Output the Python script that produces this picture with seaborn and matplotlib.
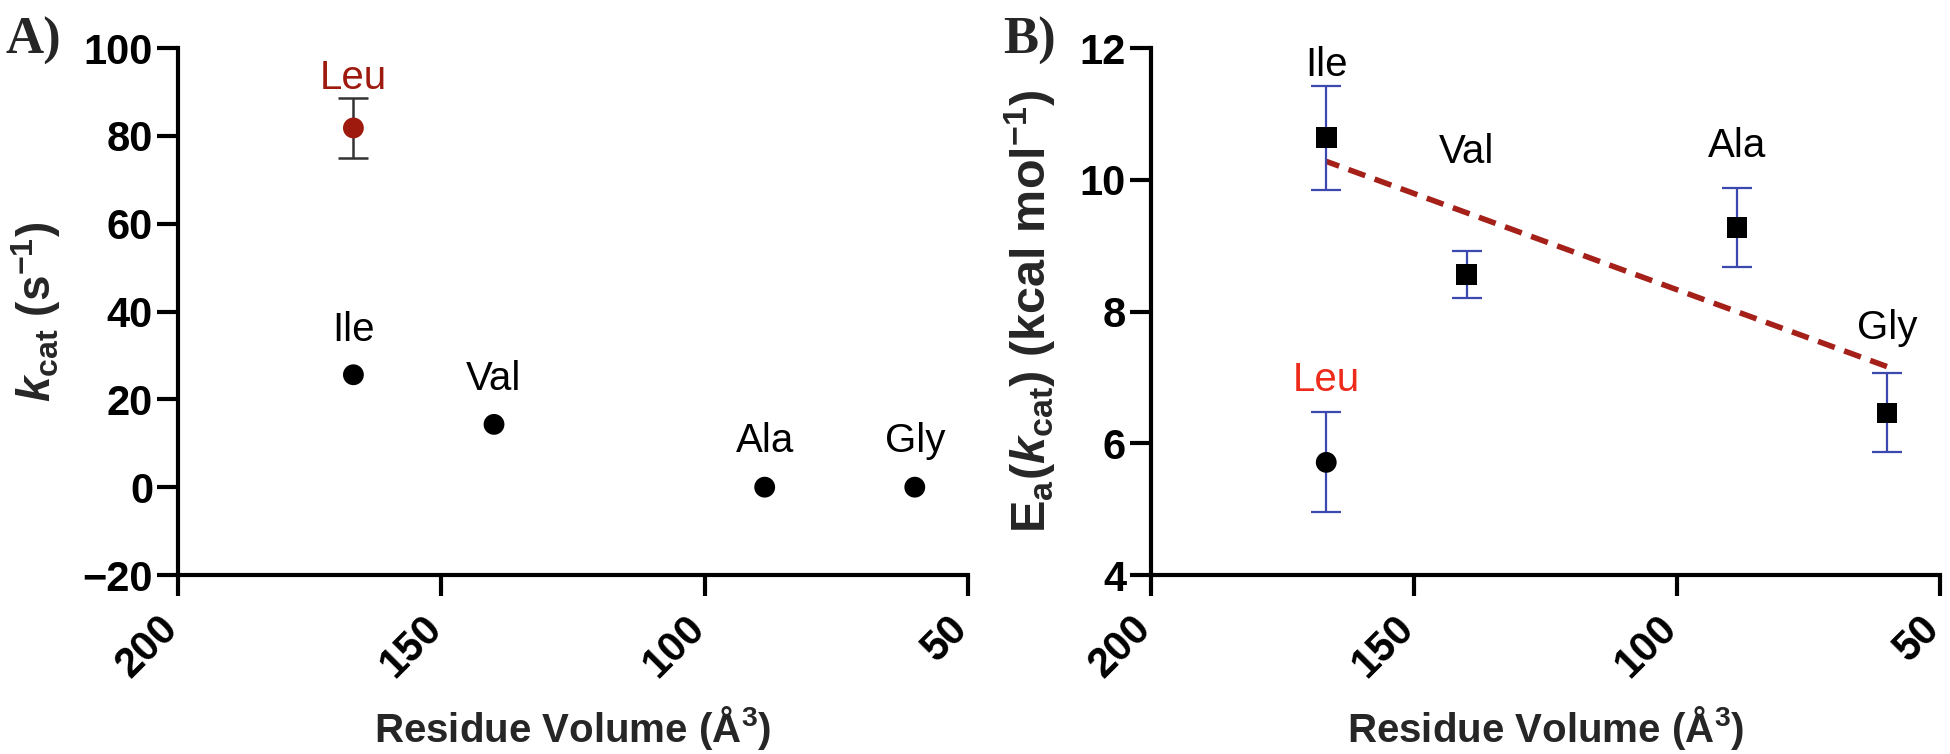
import numpy as np
import pandas as pd
import matplotlib
matplotlib.use("Agg")
import matplotlib.pyplot as plt
import matplotlib.transforms as mtransforms
import seaborn as sns

# ---------------- data ----------------
residues = ["Leu", "Ile", "Val", "Ala", "Gly"]
volume = [166.7, 166.7, 140.0, 88.6, 60.1]          # residue volume (A^3)
kcat = [81.8, 25.6, 14.3, 0.0, 0.0]                # kcat (s^-1)
kcat_err = [6.8, 0.0, 0.0, 0.0, 0.0]
ea = [5.71, 10.64, 8.56, 9.28, 6.46]               # Ea(kcat) (kcal/mol)
ea_err = [0.76, 0.79, 0.36, 0.60, 0.60]

x_ticks = [200, 150, 100, 50]
kcat_ticks = [-20, 0, 20, 40, 60, 80, 100]
ea_ticks = [4, 6, 8, 10, 12]

# ---------------- style ----------------
sns.set_theme(style="ticks")
plt.rcParams["font.family"] = ["Liberation Sans", "DejaVu Sans"]
plt.rcParams["mathtext.fontset"] = "custom"
plt.rcParams["mathtext.rm"] = "Liberation Sans:bold"
plt.rcParams["mathtext.bf"] = "Liberation Sans:bold"
plt.rcParams["mathtext.sf"] = "Liberation Sans:bold"
plt.rcParams["mathtext.it"] = "Liberation Sans:bold:italic"

DARK_RED = "#9E1A0E"
BRIGHT_RED = "#EE2A1B"
BLUE = "#3A48B0"
LINE_RED = "#A52019"

df = pd.DataFrame({"residue": residues, "volume": volume, "kcat": kcat,
                   "kcat_err": kcat_err, "ea": ea, "ea_err": ea_err})
df["group"] = np.where(df["residue"] == "Leu", "Leu", "fit")

fig = plt.figure(figsize=(19.5, 7.54), dpi=100)
axA = fig.add_axes([0.0913, 0.2374, 0.4051, 0.6989])
axB = fig.add_axes([0.5903, 0.2374, 0.4046, 0.6989])
shift = mtransforms.ScaledTranslation(8 / 100, 0, fig.dpi_scale_trans)


def style_axis(ax):
    for s in ["top", "right"]:
        ax.spines[s].set_visible(False)
    for s in ["left", "bottom"]:
        ax.spines[s].set_linewidth(3)
        ax.spines[s].set_color("black")
    ax.tick_params(axis="both", length=15, width=3, direction="out",
                   labelsize=30, colors="black")
    ax.tick_params(axis="y", pad=3)
    ax.tick_params(axis="x", pad=9)
    ax.set_xlim(200, 50)
    ax.set_xticks(x_ticks)
    for lab in ax.get_yticklabels():
        lab.set_fontweight("bold")
    for lab in ax.get_xticklabels():
        lab.set_fontweight("bold")
        lab.set_rotation(45)
        lab.set_ha("right")
        lab.set_va("top")
        lab.set_rotation_mode("default")
        lab.set_transform(lab.get_transform() + shift)
    ax.set_xlabel("Residue Volume (Å$^\\mathrm{3}$)", fontsize=29,
                  fontweight="bold", va="top")
    ax.xaxis.set_label_coords(0.5, -0.245)


# ---------------- panel A ----------------
sns.scatterplot(data=df, x="volume", y="kcat", hue="group",
                palette={"Leu": DARK_RED, "fit": "black"}, s=225,
                linewidth=0, legend=False, ax=axA, zorder=4)
leu = df[df["residue"] == "Leu"]
axA.errorbar(leu["volume"], leu["kcat"], yerr=leu["kcat_err"], fmt="none",
             ecolor="#333333", elinewidth=1.8, capsize=11, capthick=1.8, zorder=3)
axA.set_ylim(-20, 100)
axA.set_yticks(kcat_ticks)
style_axis(axA)
axA.set_ylabel("$\\mathit{k}_\\mathrm{cat}$ ($\\mathrm{s}^\\mathrm{-1}$)",
               fontsize=33, fontweight="bold")
axA.yaxis.set_label_coords(-0.145, 0.5)

offA = {"Leu": 6.5, "Ile": 24, "Val": 25, "Ala": 25, "Gly": 25}
for _, r in df.iterrows():
    top = r["kcat"] + r["kcat_err"]
    axA.annotate(r["residue"], (r["volume"], top), xytext=(0, offA[r["residue"]]),
                 textcoords="offset points", ha="center", va="baseline",
                 fontsize=29, color=DARK_RED if r["residue"] == "Leu" else "black")

# ---------------- panel B ----------------
fitdf = df[df["group"] == "fit"]
sns.regplot(data=fitdf, x="volume", y="ea", scatter=False, ci=None, truncate=True,
            line_kws=dict(color=LINE_RED, lw=4, ls=(0, (3.2, 1.8))), ax=axB)
axB.errorbar(df["volume"], df["ea"], yerr=df["ea_err"], fmt="none",
             ecolor=BLUE, elinewidth=1.6, capsize=11, capthick=1.6, zorder=3)
sns.scatterplot(data=df, x="volume", y="ea", style="group",
                markers={"Leu": "o", "fit": "s"}, color="black", s=225,
                linewidth=0, legend=False, ax=axB, zorder=4)
axB.set_ylim(4, 12)
axB.set_yticks(ea_ticks)
style_axis(axB)
axB.set_ylabel("E$_\\mathrm{a}$($\\mathit{k}_\\mathrm{cat}$) (kcal mol$^\\mathrm{-1}$)",
               fontsize=35, fontweight="bold")
axB.yaxis.set_label_coords(-0.118, 0.5)

offB = {"Leu": 15, "Ile": 7, "Val": 63, "Ala": 22, "Gly": 25}
for _, r in df.iterrows():
    top = r["ea"] + r["ea_err"]
    axB.annotate(r["residue"], (r["volume"], top), xytext=(0, offB[r["residue"]]),
                 textcoords="offset points", ha="center", va="baseline",
                 fontsize=29, color=BRIGHT_RED if r["residue"] == "Leu" else "black")

# panel letters
fig.text(6 / 1950, 1 - 54 / 754, "A)", fontsize=38, fontweight="bold",
         family="Liberation Serif", va="baseline", ha="left")
fig.text(1003 / 1950, 1 - 54 / 754, "B)", fontsize=38, fontweight="bold",
         family="Liberation Serif", va="baseline", ha="left")

fig.savefig("out.png", dpi=100, facecolor="white")
